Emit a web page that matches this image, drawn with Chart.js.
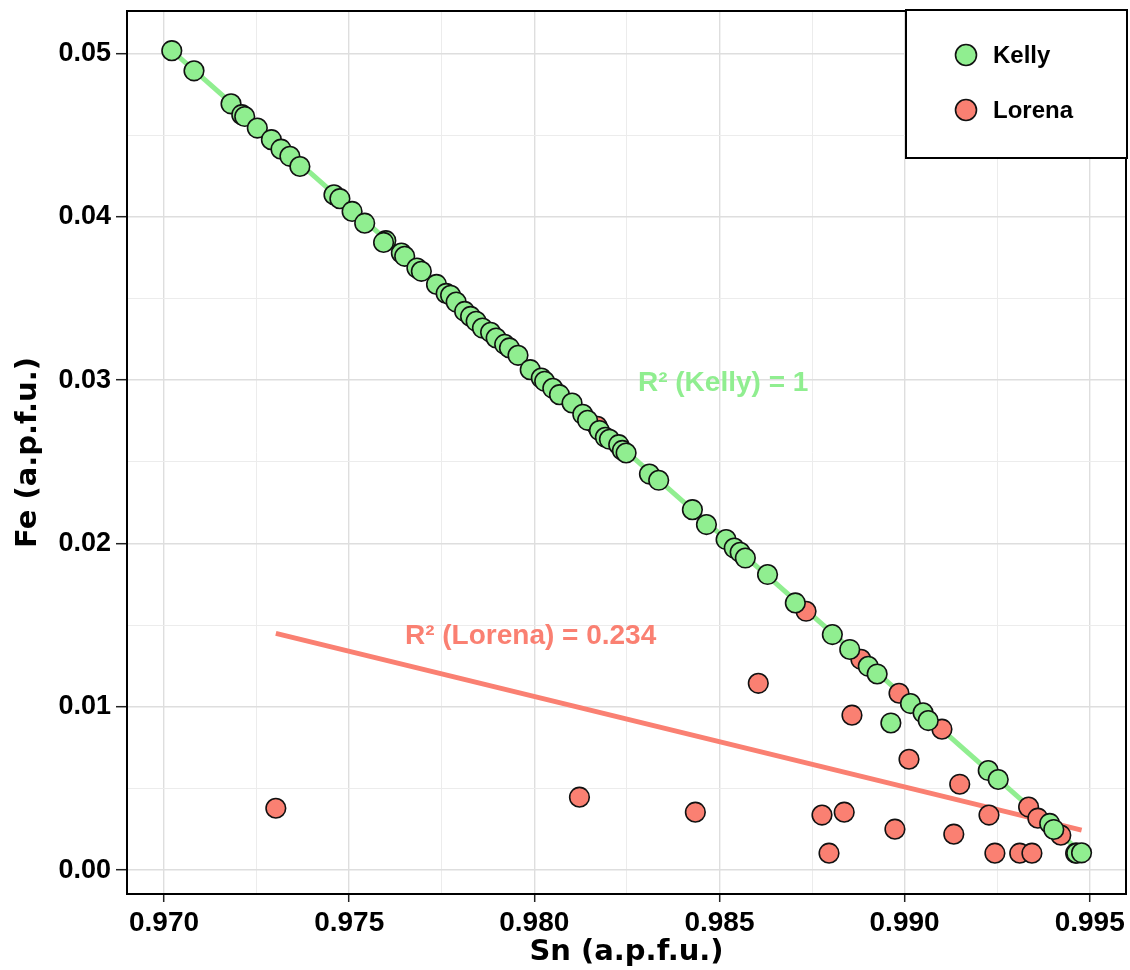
<!DOCTYPE html>
<html>
<head>
<meta charset="utf-8">
<script src="https://cdn.jsdelivr.net/npm/chart.js@4/dist/chart.umd.min.js"></script>
<style>
  html, body { margin: 0; padding: 0; background: #fff; }
  #wrap { width: 1130px; height: 970px; }
</style>
</head>
<body>
<div id="wrap"><canvas id="snFeChart" width="1130" height="970"></canvas></div>
<script>
// ---------- data ----------
const seriesNames = ["Kelly", "Lorena"];

const kellySn = [0.97021, 0.97081, 0.97181, 0.97210, 0.97218, 0.97252, 0.97290, 0.97316, 0.97340, 0.97367,
  0.97459, 0.97475, 0.97508, 0.97542, 0.97599, 0.97593, 0.97641, 0.97650, 0.97683, 0.97695,
  0.97736, 0.97762, 0.97774, 0.97789, 0.97812, 0.97828, 0.97843, 0.97860, 0.97882, 0.97897,
  0.97920, 0.97933, 0.97956, 0.97989, 0.98019, 0.98028, 0.98050, 0.98068, 0.98102, 0.98131,
  0.98144, 0.98176, 0.98192, 0.98203, 0.98228, 0.98238, 0.98248, 0.98311, 0.98336, 0.98427,
  0.98465, 0.98518, 0.98540, 0.98556, 0.98570, 0.98630, 0.98705, 0.98805, 0.98852, 0.98902,
  0.98926, 0.98963, 0.99016, 0.99050, 0.99064, 0.99226, 0.99253, 0.99392, 0.99403, 0.99465, 0.99478];
const kellyFe = [0.05017, 0.04894, 0.04692, 0.04625, 0.04614, 0.04543, 0.04472, 0.04414, 0.04370, 0.04308,
  0.04135, 0.04111, 0.04033, 0.03961, 0.03854, 0.03843, 0.03778, 0.03758, 0.03686, 0.03666,
  0.03586, 0.03531, 0.03519, 0.03478, 0.03421, 0.03390, 0.03360, 0.03319, 0.03293, 0.03258,
  0.03219, 0.03197, 0.03152, 0.03064, 0.03013, 0.02993, 0.02950, 0.02911, 0.02860, 0.02791,
  0.02754, 0.02691, 0.02650, 0.02638, 0.02605, 0.02570, 0.02554, 0.02425, 0.02387, 0.02207,
  0.02116, 0.02024, 0.01972, 0.01946, 0.01911, 0.01810, 0.01636, 0.01442, 0.01351, 0.01248,
  0.01201, 0.00901, 0.01020, 0.00963, 0.00916, 0.00610, 0.00555, 0.00286, 0.00249, 0.00104, 0.00106];

const lorenaSn = [0.97302, 0.98122, 0.98170, 0.98435, 0.98605, 0.98734, 0.98777, 0.98796, 0.98837, 0.98858,
  0.98882, 0.98974, 0.98985, 0.99012, 0.99101, 0.99133, 0.99149, 0.99228, 0.99244, 0.99311,
  0.99335, 0.99344, 0.99360, 0.99422, 0.99462];
const lorenaFe = [0.00379, 0.00447, 0.02717, 0.00355, 0.01144, 0.01585, 0.00337, 0.00104, 0.00355, 0.00949,
  0.01291, 0.00251, 0.01083, 0.00679, 0.00863, 0.00220, 0.00526, 0.00337, 0.00104, 0.00104,
  0.00386, 0.00104, 0.00318, 0.00214, 0.00104];

// fitted lines (end points as drawn)
const kellyFitSn = [0.97021, 0.99478];
const kellyFitFe = [0.05017, 0.00106];
const lorenaFitSn = [0.97302, 0.99478];
const lorenaFitFe = [0.01450, 0.00245];

const r2Labels = ["R\u00B2 (Kelly) = 1", "R\u00B2 (Lorena) = 0.234"];

// axis ticks
const xTicks = [0.970, 0.975, 0.980, 0.985, 0.990, 0.995];
const xMinorTicks = [0.9725, 0.9775, 0.9825, 0.9875, 0.9925];
const yTicks = [0.00, 0.01, 0.02, 0.03, 0.04, 0.05];
const yMinorTicks = [0.005, 0.015, 0.025, 0.035, 0.045];

const KELLY = "#90EE90";
const LORENA = "#FA8072";
const FONT = "'Liberation Sans', Arial, sans-serif";
const TITLE_FONT = "'DejaVu Sans', 'Liberation Sans', sans-serif";

const toPoints = (xs, ys) => xs.map((x, i) => ({ x: x, y: ys[i] }));
const isMajor = (v, list) => list.some(t => Math.abs(t - v) < 1e-7);

// ---------- panel border, R² labels and legend ----------
const decorations = {
  id: "decorations",
  afterDraw(chart) {
    const { ctx, chartArea: a, scales } = chart;
    ctx.save();
    ctx.strokeStyle = "#000";
    ctx.lineWidth = 2;
    ctx.strokeRect(a.left, a.top, a.right - a.left, a.bottom - a.top);

    ctx.font = "bold 28px " + FONT;
    ctx.textAlign = "center";
    ctx.textBaseline = "middle";
    ctx.fillStyle = KELLY;
    ctx.fillText(r2Labels[0], scales.x.getPixelForValue(0.98510), scales.y.getPixelForValue(0.0298));
    ctx.fillStyle = LORENA;
    ctx.fillText(r2Labels[1], scales.x.getPixelForValue(0.97990), scales.y.getPixelForValue(0.01432));

    // legend box
    const lx = 906, ly = 10, lw = 221, lh = 148;
    ctx.fillStyle = "#fff";
    ctx.fillRect(lx, ly, lw, lh);
    ctx.lineWidth = 2;
    ctx.strokeStyle = "#000";
    ctx.strokeRect(lx, ly, lw, lh);
    const colors = [KELLY, LORENA];
    ctx.font = "bold 24px " + FONT;
    ctx.textAlign = "left";
    seriesNames.forEach((name, i) => {
      const cy = 55 + i * 55;
      ctx.beginPath();
      ctx.arc(966, cy, 10.5, 0, Math.PI * 2);
      ctx.fillStyle = colors[i];
      ctx.fill();
      ctx.lineWidth = 1.6;
      ctx.strokeStyle = "#111";
      ctx.stroke();
      ctx.fillStyle = "#000";
      ctx.fillText(name, 993, cy + 1);
    });
    ctx.restore();
  }
};

const pointStyle = (color) => ({
  backgroundColor: color,
  borderColor: "#111",
  borderWidth: 1.6,
  pointRadius: 9.8,
  pointHoverRadius: 9.8,
  showLine: false
});

new Chart(document.getElementById("snFeChart"), {
  type: "scatter",
  data: {
    datasets: [
      Object.assign({ label: seriesNames[0], data: toPoints(kellySn, kellyFe), order: 0 }, pointStyle(KELLY)),
      Object.assign({ label: seriesNames[1], data: toPoints(lorenaSn, lorenaFe), order: 1 }, pointStyle(LORENA)),
      {
        label: "Kelly fit", data: toPoints(kellyFitSn, kellyFitFe), order: 2,
        showLine: true, borderColor: KELLY, borderWidth: 5, pointRadius: 0
      },
      {
        label: "Lorena fit", data: toPoints(lorenaFitSn, lorenaFitFe), order: 3,
        showLine: true, borderColor: LORENA, borderWidth: 5, pointRadius: 0
      }
    ]
  },
  options: {
    responsive: false,
    animation: false,
    layout: { autoPadding: false, padding: { top: 11, right: 4, left: 0, bottom: 0 } },
    plugins: {
      legend: { display: false },
      tooltip: { enabled: false }
    },
    scales: {
      x: {
        type: "linear",
        min: 0.96900,
        max: 0.99598,
        afterFit: (s) => { s.height = 76; s.paddingLeft = 0; s.paddingRight = 0; },
        afterBuildTicks: (s) => {
          s.ticks = xTicks.concat(xMinorTicks).sort((p, q) => p - q).map(v => ({ value: v }));
        },
        border: { display: false },
        grid: {
          color: (c) => (c.tick && isMajor(c.tick.value, xTicks)) ? "#dedede" : "#ececec",
          lineWidth: (c) => (c.tick && isMajor(c.tick.value, xTicks)) ? 1.4 : 1,
          tickColor: (c) => (c.tick && isMajor(c.tick.value, xTicks)) ? "#222" : "rgba(0,0,0,0)",
          tickLength: 8,
          tickWidth: 1.5
        },
        ticks: {
          color: "#000",
          padding: 4,
          maxRotation: 0,
          autoSkip: false,
          font: { family: FONT, size: 28, weight: "bold" },
          callback: (v) => isMajor(v, xTicks) ? v.toFixed(3) : ""
        },
        title: {
          display: true,
          text: "Sn (a.p.f.u.)",
          color: "#000",
          padding: { top: 0, bottom: 0 },
          font: { family: TITLE_FONT, size: 29, weight: "bold" }
        }
      },
      y: {
        type: "linear",
        min: -0.00146,
        max: 0.05260,
        afterFit: (s) => { s.width = 127; s.paddingTop = 0; s.paddingBottom = 0; },
        afterBuildTicks: (s) => {
          s.ticks = yTicks.concat(yMinorTicks).sort((p, q) => p - q).map(v => ({ value: v }));
        },
        border: { display: false },
        grid: {
          color: (c) => (c.tick && isMajor(c.tick.value, yTicks)) ? "#dedede" : "#ececec",
          lineWidth: (c) => (c.tick && isMajor(c.tick.value, yTicks)) ? 1.4 : 1,
          tickColor: (c) => (c.tick && isMajor(c.tick.value, yTicks)) ? "#222" : "rgba(0,0,0,0)",
          tickLength: 11,
          tickWidth: 1.5
        },
        ticks: {
          color: "#000",
          padding: 5,
          autoSkip: false,
          font: { family: FONT, size: 27, weight: "bold" },
          callback: (v) => isMajor(v, yTicks) ? v.toFixed(2) : ""
        },
        title: {
          display: true,
          text: "Fe (a.p.f.u.)",
          color: "#000",
          padding: { top: 11, bottom: 0 },
          font: { family: TITLE_FONT, size: 29, weight: "bold" }
        }
      }
    }
  },
  plugins: [decorations]
});
</script>
</body>
</html>
